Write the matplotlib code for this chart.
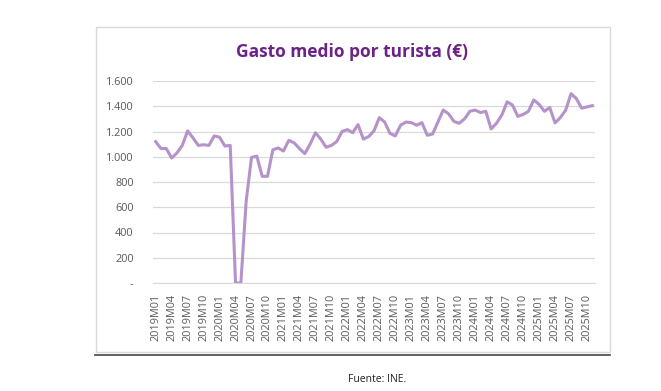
import numpy as np
import matplotlib
matplotlib.use("Agg")
import matplotlib.pyplot as plt
from matplotlib.patches import Rectangle
from matplotlib.lines import Line2D

# data: average spend per tourist, monthly 2019M01 - 2025M11
years = list(range(2019, 2026))
gasto = [
    # 2019
    1120, 1065, 1065, 990, 1030, 1090, 1205, 1150, 1090, 1095, 1090, 1165,
    # 2020
    1155, 1085, 1090, 0, 0, 650, 995, 1005, 845, 845, 1055, 1070,
    # 2021
    1045, 1130, 1110, 1065, 1025, 1100, 1190, 1140, 1075, 1090, 1120, 1200,
    # 2022
    1215, 1190, 1255, 1140, 1160, 1205, 1310, 1275, 1185, 1165, 1250, 1275,
    # 2023
    1270, 1250, 1270, 1170, 1180, 1275, 1370, 1340, 1280, 1265, 1300, 1360,
    # 2024
    1370, 1350, 1360, 1220, 1265, 1330, 1435, 1410, 1320, 1335, 1360, 1450,
    # 2025
    1415, 1360, 1390, 1268, 1310, 1370, 1500, 1460, 1385, 1395, 1405,
]
periodos = [f"{y}M{m:02d}" for y in years for m in range(1, 13)][:len(gasto)]
y_ticks = [0, 200, 400, 600, 800, 1000, 1200, 1400, 1600]

W, H = 661, 391
fig = plt.figure(figsize=(W / 100, H / 100), dpi=100)
fig.patch.set_facecolor("white")

# chart frame
fig.add_artist(Rectangle((96 / W, 1 - 352 / H), (610 - 96) / W, (352 - 27) / H,
                         transform=fig.transFigure, fill=False,
                         edgecolor="#d9d9d9", linewidth=1.0))
fig.add_artist(Line2D([95 / W, 610 / W], [1 - 355 / H, 1 - 355 / H],
                      transform=fig.transFigure, color="#555555", linewidth=1.3))

ax = fig.add_axes([153 / W, 1 - 283 / H, (595 - 153) / W, (283 - 81) / H])
x = np.arange(len(gasto))
ax.plot(x, gasto, color="#b592c9", linewidth=2.2, solid_joinstyle="round")

ax.set_xlim(-0.5, len(gasto) - 0.5)
ax.set_ylim(0, 1600)
ax.set_yticks(y_ticks)
ax.set_yticklabels(["-" if v == 0 else f"{v:,}".replace(",", ".") for v in y_ticks])
ax.set_xticks(x[::3])
ax.set_xticklabels(periodos[::3], rotation=90)
ax.grid(axis="y", color="#d9d9d9", linewidth=0.9)
ax.set_axisbelow(True)
for s in ["top", "right", "left"]:
    ax.spines[s].set_visible(False)
ax.spines["bottom"].set_color("#d9d9d9")
ax.tick_params(axis="both", length=0, labelsize=7.8, labelcolor="#595959")
ax.tick_params(axis="y", pad=14)
ax.tick_params(axis="x", pad=8)
for lbl in ax.get_xticklabels() + ax.get_yticklabels():
    lbl.set_family("Open Sans")

fig.text(352 / W, 1 - 52 / H, "Gasto medio por turista (€)", ha="center", va="center",
         fontsize=12.5, fontweight="bold", color="#6b2388", family="Open Sans")
fig.text(348 / W, 1 - 379 / H, "Fuente: INE.", ha="left", va="center",
         fontsize=7.5, color="#222222", family="Open Sans")

fig.savefig("out.png", dpi=100)
